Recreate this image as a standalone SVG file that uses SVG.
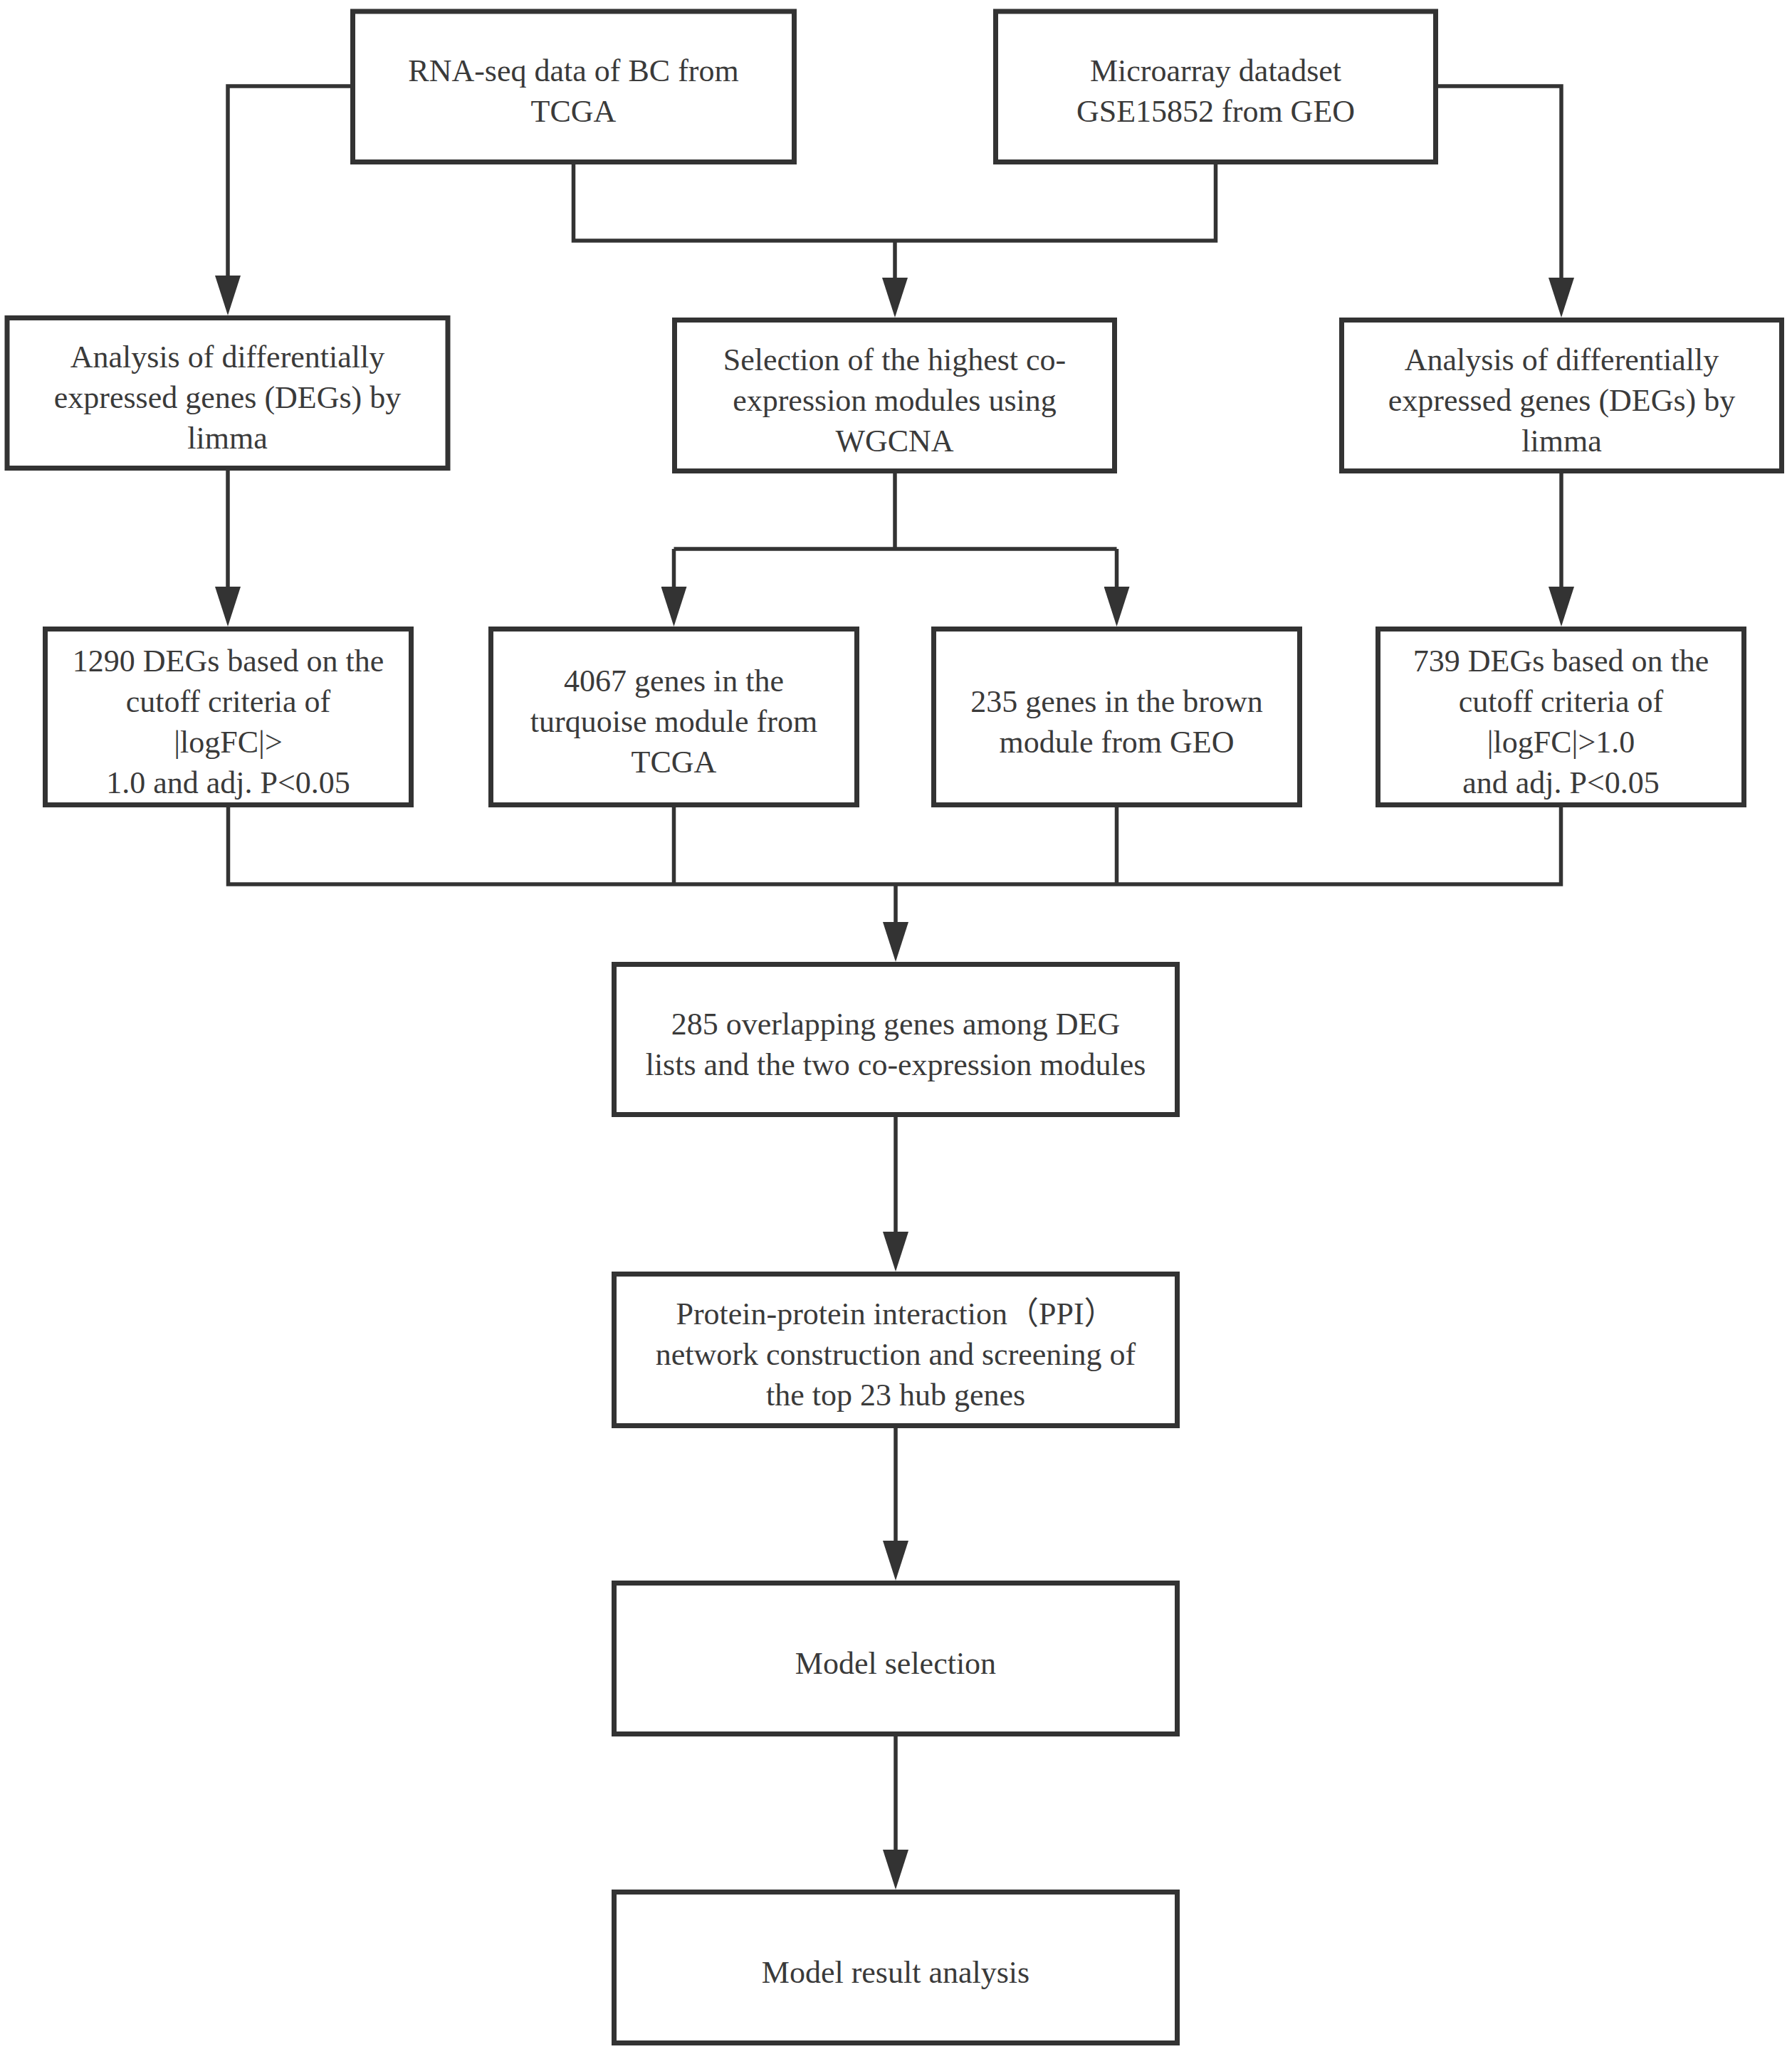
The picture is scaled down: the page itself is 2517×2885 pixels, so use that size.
<svg xmlns="http://www.w3.org/2000/svg" width="2517" height="2885" viewBox="0 0 2517 2885">
<style>
.box{fill:#ffffff;stroke:#333333;stroke-width:7}
.ln{fill:none;stroke:#333333;stroke-width:5.5}
.t{font-family:"Liberation Serif","Times New Roman","Noto Sans CJK SC",serif;font-size:44px;fill:#3a3a3a;text-anchor:middle}
</style>
<defs>
<marker id="ah" markerUnits="userSpaceOnUse" viewBox="0 0 56 36" refX="6" refY="18" markerWidth="56" markerHeight="36" orient="auto">
<path d="M0,0 L56,18 L0,36 Z" fill="#333333"/>
</marker>
</defs>
<rect width="2517" height="2885" fill="#ffffff"/>
<g id="connectors">
<path class="ln" d="M492,121 H320 V393" marker-end="url(#ah)"/>
<path class="ln" d="M2020,121 H2193 V396" marker-end="url(#ah)"/>
<path class="ln" d="M805.5,231 V338 H1707.5 V231"/>
<path class="ln" d="M1257,338 V396" marker-end="url(#ah)"/>
<path class="ln" d="M1257,665 V771"/>
<path class="ln" d="M946.5,771 H1568.5"/>
<path class="ln" d="M946.5,771 V830" marker-end="url(#ah)"/>
<path class="ln" d="M1568.5,771 V830" marker-end="url(#ah)"/>
<path class="ln" d="M320,661 V830" marker-end="url(#ah)"/>
<path class="ln" d="M2193,665 V830" marker-end="url(#ah)"/>
<path class="ln" d="M320.5,1134 V1242 H2192.5 V1134"/>
<path class="ln" d="M946.5,1134 V1242"/>
<path class="ln" d="M1568.5,1134 V1242"/>
<path class="ln" d="M1258,1242 V1301" marker-end="url(#ah)"/>
<path class="ln" d="M1258,1569 V1736" marker-end="url(#ah)"/>
<path class="ln" d="M1258,2006 V2170" marker-end="url(#ah)"/>
<path class="ln" d="M1258,2439 V2604" marker-end="url(#ah)"/>
</g>
<g id="n_rnaseq">
<rect class="box" x="495.5" y="16" width="620" height="211.5"/>
<text class="t" x="805.5" y="114">RNA-seq data of BC from</text>
<text class="t" x="805.5" y="171">TCGA</text>
</g>
<g id="n_microarray">
<rect class="box" x="1398.5" y="16" width="618" height="211.5"/>
<text class="t" x="1707.5" y="114">Microarray datadset</text>
<text class="t" x="1707.5" y="171">GSE15852 from GEO</text>
</g>
<g id="n_limma_left">
<rect class="box" x="10" y="446.5" width="619" height="211"/>
<text class="t" x="319.5" y="516">Analysis of differentially</text>
<text class="t" x="319.5" y="573">expressed genes (DEGs) by</text>
<text class="t" x="319.5" y="630">limma</text>
</g>
<g id="n_wgcna">
<rect class="box" x="947.5" y="449.5" width="618" height="212"/>
<text class="t" x="1256.5" y="519.5">Selection of the highest co-</text>
<text class="t" x="1256.5" y="576.5">expression modules using</text>
<text class="t" x="1256.5" y="633.5">WGCNA</text>
</g>
<g id="n_limma_right">
<rect class="box" x="1884.5" y="449.5" width="618" height="212"/>
<text class="t" x="2193.5" y="519.5">Analysis of differentially</text>
<text class="t" x="2193.5" y="576.5">expressed genes (DEGs) by</text>
<text class="t" x="2193.5" y="633.5">limma</text>
</g>
<g id="n_deg1290">
<rect class="box" x="63.5" y="883.5" width="514" height="247"/>
<text class="t" x="320.5" y="942.5">1290 DEGs based on the</text>
<text class="t" x="320.5" y="999.5">cutoff criteria of</text>
<text class="t" x="320.5" y="1056.5">|logFC|&gt;</text>
<text class="t" x="320.5" y="1113.5">1.0 and adj. P&lt;0.05</text>
</g>
<g id="n_turquoise">
<rect class="box" x="689.5" y="883.5" width="514" height="247"/>
<text class="t" x="946.5" y="971">4067 genes in the</text>
<text class="t" x="946.5" y="1028">turquoise module from</text>
<text class="t" x="946.5" y="1085">TCGA</text>
</g>
<g id="n_brown">
<rect class="box" x="1311.5" y="883.5" width="514" height="247"/>
<text class="t" x="1568.5" y="999.5">235 genes in the brown</text>
<text class="t" x="1568.5" y="1056.5">module from GEO</text>
</g>
<g id="n_deg739">
<rect class="box" x="1935.5" y="883.5" width="514" height="247"/>
<text class="t" x="2192.5" y="942.5">739 DEGs based on the</text>
<text class="t" x="2192.5" y="999.5">cutoff criteria of</text>
<text class="t" x="2192.5" y="1056.5">|logFC|&gt;1.0</text>
<text class="t" x="2192.5" y="1113.5">and adj. P&lt;0.05</text>
</g>
<g id="n_overlap">
<rect class="box" x="862.5" y="1354.5" width="791" height="211"/>
<text class="t" x="1258" y="1452.5">285 overlapping genes among DEG</text>
<text class="t" x="1258" y="1509.5">lists and the two co-expression modules</text>
</g>
<g id="n_ppi">
<rect class="box" x="862.5" y="1789.5" width="791" height="213"/>
<text class="t" x="1258" y="1860">Protein-protein interaction（PPI）</text>
<text class="t" x="1258" y="1917">network construction and screening of</text>
<text class="t" x="1258" y="1974">the top 23 hub genes</text>
</g>
<g id="n_model_selection">
<rect class="box" x="862.5" y="2223.5" width="791" height="212"/>
<text class="t" x="1258" y="2350.5">Model selection</text>
</g>
<g id="n_model_result">
<rect class="box" x="862.5" y="2657.5" width="791" height="212"/>
<text class="t" x="1258" y="2784.5">Model result analysis</text>
</g>
</svg>
